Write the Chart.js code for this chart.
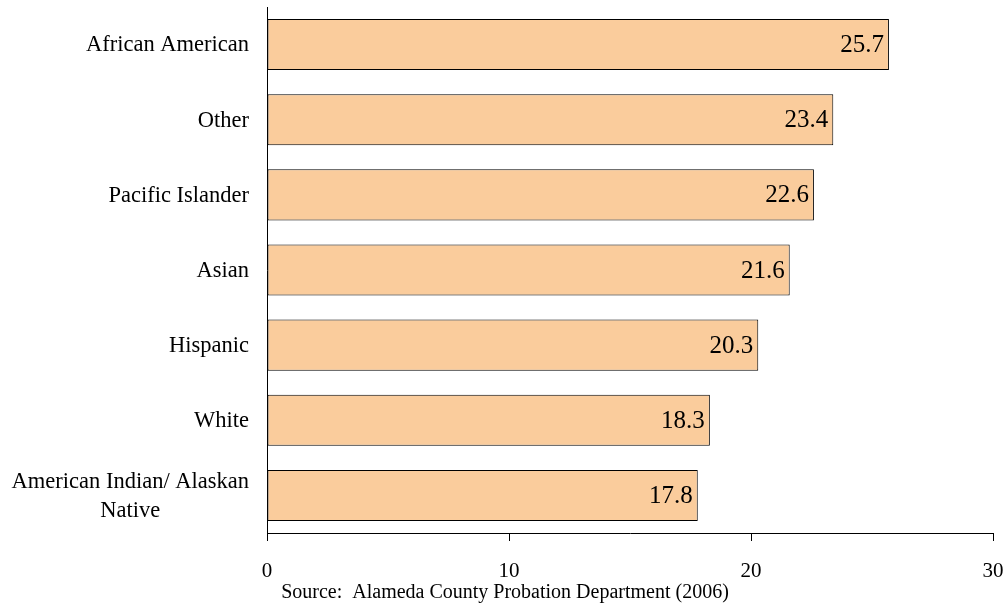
<!DOCTYPE html>
<html>
<head>
<meta charset="utf-8">
<script src="https://cdn.jsdelivr.net/npm/chart.js@4.4.1/dist/chart.umd.min.js"></script>
<style>
  html, body { margin: 0; padding: 0; background: #fff; }
  #wrap { width: 1007px; height: 610px; }
</style>
</head>
<body>
<div id="wrap"><canvas id="chart" width="1007" height="610"></canvas></div>
<script>
const categories = [
  'African American',
  'Other',
  'Pacific Islander',
  'Asian',
  'Hispanic',
  'White',
  ['American Indian/ Alaskan', 'Native']
];
const values = [25.7, 23.4, 22.6, 21.6, 20.3, 18.3, 17.8];
const xTicks = [0, 10, 20, 30];
const sourceNote = 'Source:  Alameda County Probation Department (2006)';

const serif = '"Liberation Serif", "Times New Roman", serif';

// category labels, values inside the bar ends, and the source line
const textPlugin = {
  id: 'texts',
  afterDraw(chart) {
    const ctx = chart.ctx;
    const yScale = chart.scales.y;
    ctx.save();
    ctx.fillStyle = '#000';

    // y labels (right aligned, multi-line centered on itself)
    ctx.font = '22.5px ' + serif;
    ctx.textBaseline = 'middle';
    const rightEdge = chart.chartArea.left - 18;
    categories.forEach((cat, i) => {
      const y = yScale.getPixelForTick(i) + 1;
      if (Array.isArray(cat)) {
        const widths = cat.map(s => ctx.measureText(s).width);
        const widest = Math.max(...widths);
        const cx = rightEdge - widest / 2;
        const lh = 29;
        ctx.textAlign = 'center';
        cat.forEach((line, j) => {
          ctx.fillText(line, cx, y + (j - (cat.length - 1) / 2) * lh);
        });
      } else {
        ctx.textAlign = 'right';
        ctx.fillText(cat, rightEdge, y);
      }
    });

    // value labels
    const meta = chart.getDatasetMeta(0);
    ctx.font = '25px ' + serif;
    ctx.textAlign = 'right';
    meta.data.forEach((bar, i) => {
      ctx.fillText(values[i].toFixed(1), bar.x - 5, bar.y + 1);
    });

    // source
    ctx.font = '20px ' + serif;
    ctx.textAlign = 'center';
    ctx.fillText(sourceNote, 505, 593);
    ctx.restore();
  }
};

new Chart(document.getElementById('chart').getContext('2d'), {
  type: 'bar',
  data: {
    labels: categories,
    datasets: [{
      data: values,
      backgroundColor: '#FACC9C',
      borderColor: '#000',
      borderWidth: 1,
      borderSkipped: false,
      categoryPercentage: 1,
      barPercentage: 0.68
    }]
  },
  options: {
    indexAxis: 'y',
    responsive: false,
    animation: false,
    devicePixelRatio: 1,
    layout: { padding: { top: 7, right: 14, bottom: 0, left: 0 } },
    plugins: {
      legend: { display: false },
      tooltip: { enabled: false }
    },
    scales: {
      x: {
        min: 0,
        max: 30,
        afterBuildTicks(scale) {
          scale.ticks = xTicks.map(v => ({ value: v }));
        },
        afterFit(scale) {
          scale.height = 77;
          scale.paddingLeft = 0;
          scale.paddingRight = 0;
        },
        grid: {
          display: true,
          drawOnChartArea: false,
          drawTicks: true,
          tickLength: 8,
          color: '#000'
        },
        border: { display: true, color: '#000', width: 1 },
        ticks: {
          color: '#000',
          padding: 18,
          maxRotation: 0,
          font: { family: serif, size: 21 }
        }
      },
      y: {
        afterFit(scale) {
          scale.width = 267;
          scale.paddingTop = 0;
          scale.paddingBottom = 0;
        },
        grid: { display: false },
        border: { display: true, color: '#000', width: 1 },
        ticks: { display: false }
      }
    }
  },
  plugins: [textPlugin]
});
</script>
</body>
</html>
